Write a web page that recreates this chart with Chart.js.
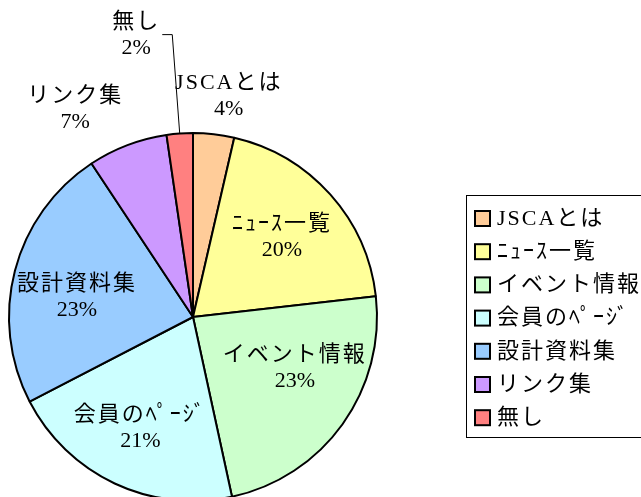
<!DOCTYPE html>
<html>
<head>
<meta charset="utf-8">
<script src="https://cdn.jsdelivr.net/npm/chart.js@4"></script>
<style>
  html, body { margin: 0; padding: 0; background: #fff; }
  #wrap { width: 641px; height: 497px; overflow: hidden; position: relative; }
</style>
</head>
<body>
<div id="wrap"><canvas id="myChart" width="641" height="510"></canvas></div>
<script>
const categories = ['JSCAとは', 'ﾆｭｰｽ一覧', 'イベント情報', '会員のﾍﾟｰｼﾞ', '設計資料集', 'リンク集', '無し'];
const shares = [3.6, 19.6, 23.4, 20.8, 23.3, 7.0, 2.3];
const pctLabels = ['4%', '20%', '23%', '21%', '23%', '7%', '2%'];
const colors = ['#FFCC99', '#FFFF99', '#CCFFCC', '#CCFFFF', '#99CCFF', '#CC99FF', '#FF8080'];

// label placement: [angle from top in degrees, distance as fraction of radius]
const labelPlace = [[9.2, 1.216], [48, 0.65], [116.8, 0.62], [205.3, 0.67], [279.7, 0.64], [330.5, 1.30], [348.6, 1.56]];

const FONT = '22px "Liberation Serif", "Noto Sans CJK JP", serif';

const labelPlugin = {
    id: 'pieLabels',
    afterDatasetsDraw(chart) {
        const ctx = chart.ctx;
        const arcs = chart.getDatasetMeta(0).data;
        ctx.save();
        ctx.font = FONT;
        ctx.fillStyle = '#000';
        ctx.textAlign = 'center';
        ctx.textBaseline = 'middle';
        arcs.forEach((arc, i) => {
            const cx = arc.x, cy = arc.y, r = arc.outerRadius;
            const a = labelPlace[i][0] * Math.PI / 180;
            const lx = cx + Math.sin(a) * r * labelPlace[i][1];
            const ly = cy - Math.cos(a) * r * labelPlace[i][1];
            ctx.letterSpacing = '2px';
            ctx.fillText(categories[i], lx, ly - 13);
            ctx.letterSpacing = '0px';
            ctx.fillText(pctLabels[i], lx, ly + 13);
            if (i === categories.length - 1) {
                // leader line from label to slice edge
                const mid = (arc.startAngle + arc.endAngle) / 2;
                const ex = cx + Math.cos(mid) * r;
                const ey = cy + Math.sin(mid) * r;
                ctx.beginPath();
                ctx.lineWidth = 1;
                ctx.strokeStyle = '#000';
                ctx.moveTo(lx + 26, ly - 1);
                ctx.lineTo(lx + 36, ly - 1);
                ctx.lineTo(ex, ey);
                ctx.stroke();
            }
        });
        ctx.restore();
    }
};

const legendPlugin = {
    id: 'boxLegend',
    afterDraw(chart) {
        const ctx = chart.ctx;
        const x0 = 466, y0 = 195, w = 190, h = 242;
        ctx.save();
        ctx.lineWidth = 1;
        ctx.strokeStyle = '#000';
        ctx.strokeRect(x0 + 0.5, y0 + 0.5, w, h);
        ctx.font = FONT;
        ctx.letterSpacing = '2px';
        ctx.textBaseline = 'middle';
        ctx.textAlign = 'left';
        categories.forEach((c, i) => {
            const y = 218 + i * 33.2;
            ctx.fillStyle = colors[i];
            ctx.fillRect(475, y - 7, 15, 15);
            ctx.lineWidth = 2;
            ctx.strokeRect(475, y - 7, 15, 15);
            ctx.fillStyle = '#000';
            ctx.fillText(c, 497, y + 1);
        });
        ctx.restore();
    }
};

const ctx = document.getElementById('myChart').getContext('2d');

const myChart = new Chart(ctx, {
    type: 'pie',
    data: {
        labels: categories,
        datasets: [{
            data: shares,
            backgroundColor: colors,
            borderColor: '#000',
            borderWidth: 2
        }]
    },
    options: {
        responsive: false,
        maintainAspectRatio: false,
        animation: false,
        layout: {
            padding: {left: 8, top: 132, right: 263, bottom: 8}
        },
        plugins: {
            legend: { display: false },
            tooltip: { enabled: false }
        }
    },
    plugins: [labelPlugin, legendPlugin]
});
</script>
</body>
</html>
